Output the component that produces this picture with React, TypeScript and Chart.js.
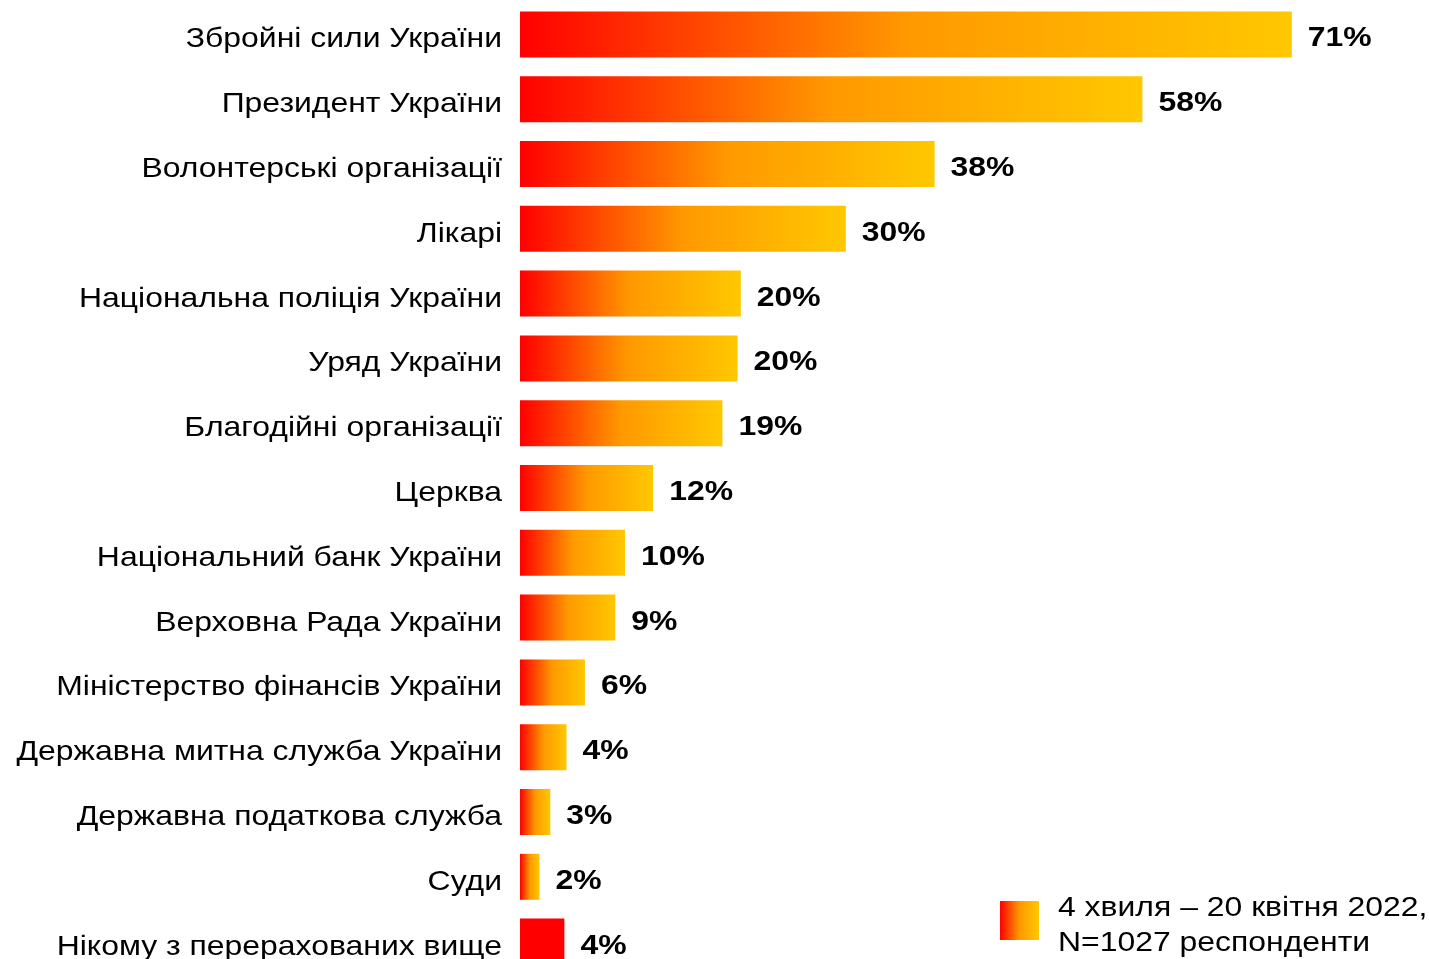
import React, { useEffect, useRef } from "react";
import { Chart, registerables } from "chart.js";

Chart.register(...registerables);

const categories = [
  "Збройні сили України",
  "Президент України",
  "Волонтерські організації",
  "Лікарі",
  "Національна поліція України",
  "Уряд України",
  "Благодійні організації",
  "Церква",
  "Національний банк України",
  "Верховна Рада України",
  "Міністерство фінансів України",
  "Державна митна служба України",
  "Державна податкова служба",
  "Суди",
  "Нікому з перерахованих вище",
];

const values = [71.3, 57.5, 38.3, 30.1, 20.4, 20.1, 18.7, 12.3, 9.7, 8.8, 6.0, 4.3, 2.8, 1.8, 4.1];

const valueLabels = ["71%", "58%", "38%", "30%", "20%", "20%", "19%", "12%", "10%", "9%", "6%", "4%", "3%", "2%", "4%"];

const solidBars = [false, false, false, false, false, false, false, false, false, false, false, false, false, false, true];

const legendLines = ["4 хвиля – 20 квітня 2022,", "N=1027 респонденти"];

const FONT = "'Liberation Sans', Arial, sans-serif";
const RED = "#FF0000";
const ORANGE = "#FF9900";
const GOLD = "#FFC800";
const STRETCH = 1.14;

function makeGradient(ctx: CanvasRenderingContext2D, x0: number, x1: number) {
  const g = ctx.createLinearGradient(x0, 0, x1, 0);
  g.addColorStop(0, RED);
  g.addColorStop(0.5, ORANGE);
  g.addColorStop(1, GOLD);
  return g;
}

function stretchedText(
  ctx: CanvasRenderingContext2D,
  text: string,
  x: number,
  y: number,
  align: CanvasTextAlign
) {
  ctx.save();
  ctx.translate(x, y);
  ctx.scale(STRETCH, 1);
  ctx.textAlign = align;
  ctx.textBaseline = "alphabetic";
  ctx.fillText(text, 0, 0);
  ctx.restore();
}

const categoryLabelPlugin = {
  id: "categoryLabels",
  afterDraw(chart: any) {
    const ctx = chart.ctx;
    const ys = chart.scales.y;
    ctx.save();
    ctx.font = `28px ${FONT}`;
    ctx.fillStyle = "#000";
    categories.forEach((label, i) => {
      const y = ys.getPixelForValue(i);
      stretchedText(ctx, label, chart.chartArea.left - 18, y + 13, "right");
    });
    ctx.restore();
  },
};

const valueLabelPlugin = {
  id: "valueLabels",
  afterDatasetsDraw(chart: any) {
    const ctx = chart.ctx;
    const meta = chart.getDatasetMeta(0);
    ctx.save();
    ctx.font = `bold 28px ${FONT}`;
    ctx.fillStyle = "#000";
    meta.data.forEach((bar: any, i: number) => {
      stretchedText(ctx, valueLabels[i], bar.x + 16, bar.y + 12, "left");
    });
    ctx.restore();
  },
};

const legendPlugin = {
  id: "customLegend",
  afterDraw(chart: any) {
    const ctx = chart.ctx;
    const x = 1000;
    const y = 901;
    const s = 39;
    ctx.save();
    ctx.fillStyle = makeGradient(ctx, x, x + s);
    ctx.fillRect(x, y, s, s);
    ctx.font = `28px ${FONT}`;
    ctx.fillStyle = "#000";
    legendLines.forEach((line, i) => {
      stretchedText(ctx, line, 1058, 916 + i * 35, "left");
    });
    ctx.restore();
  },
};

export default function App() {
  const ref = useRef<HTMLCanvasElement | null>(null);

  useEffect(() => {
    if (!ref.current) return;
    const chart = new Chart(ref.current, {
      type: "bar",
      data: {
        labels: categories,
        datasets: [
          {
            data: values,
            backgroundColor: (c: any) => {
              const chart = c.chart;
              const i = c.dataIndex;
              if (solidBars[i]) return RED;
              const xs = chart.scales?.x;
              if (!chart.chartArea || !xs || i === undefined) return RED;
              const x0 = xs.getPixelForValue(0);
              const x1 = xs.getPixelForValue(values[i]);
              return makeGradient(chart.ctx, x0, x1);
            },
            borderWidth: 0,
            barPercentage: 0.71,
            categoryPercentage: 1,
          },
        ],
      },
      options: {
        indexAxis: "y",
        responsive: false,
        animation: false,
        layout: { padding: { top: 2, bottom: 6, left: 0, right: 43 } },
        plugins: {
          legend: { display: false },
          tooltip: { enabled: false },
        },
        scales: {
          x: {
            min: 0,
            max: 80,
            display: false,
            grid: { display: false },
          },
          y: {
            grid: { display: false },
            border: { display: false },
            ticks: { display: false },
            afterFit: (scale: any) => {
              scale.width = 520;
              scale.paddingTop = 0;
              scale.paddingBottom = 0;
            },
          },
        },
      },
      plugins: [categoryLabelPlugin, valueLabelPlugin, legendPlugin],
    });
    return () => chart.destroy();
  }, []);

  return (
    <div style={{ position: "absolute", left: 0, top: 0, width: 1429, height: 980, background: "#fff" }}>
      <canvas ref={ref} width={1429} height={980} style={{ display: "block" }} />
    </div>
  );
}
